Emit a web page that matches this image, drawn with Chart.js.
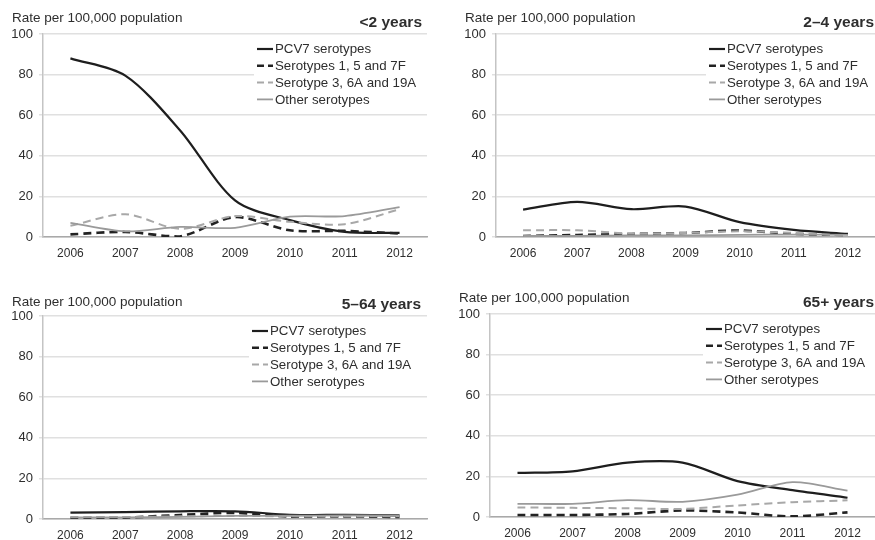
<!DOCTYPE html>
<html>
<head>
<meta charset="utf-8">
<script src="https://cdn.jsdelivr.net/npm/chart.js@4.4.1/dist/chart.umd.min.js"></script>
<style>
  html, body { margin: 0; padding: 0; background: #ffffff; }
  #wrap { position: relative; width: 875px; height: 540px; overflow: hidden; background: #ffffff; }
  #wrap canvas { position: absolute; }
</style>
</head>
<body>
<div id="wrap">
  <canvas id="c0" width="437" height="270" style="left:0px;top:0px"></canvas>
  <canvas id="c1" width="438" height="270" style="left:437px;top:0px"></canvas>
  <canvas id="c2" width="437" height="260" style="left:0px;top:280px"></canvas>
  <canvas id="c3" width="438" height="260" style="left:437px;top:280px"></canvas>
</div>
<script>
// Invasive pneumococcal disease rates by serotype group, per age band
const years = ['2006', '2007', '2008', '2009', '2010', '2011', '2012'];
const seriesNames = ['PCV7 serotypes', 'Serotypes 1, 5 and 7F', 'Serotype 3, 6A and 19A', 'Other serotypes'];
const yTicks = [0, 20, 40, 60, 80, 100];
const yAxisLabel = 'Rate per 100,000 population';
const panelTitles = ['<2 years', '2\u20134 years', '5\u201364 years', '65+ years'];

const under2Pcv7      = [88, 79.5, 52.5, 18, 8.3, 2.5, 2];
const under2Type157f  = [1.3, 2.5, 0.3, 9.8, 3.3, 3, 1.7];
const under2Type36a   = [5.5, 11.2, 4, 10.3, 7.5, 6.3, 13.7];
const under2Other     = [7, 2.8, 5, 4.5, 10, 10.3, 14.7];

const age2to4Pcv7     = [13.5, 17.3, 13.7, 15, 7.3, 3.5, 1.5];
const age2to4Type157f = [0.5, 1, 1.5, 2, 3.2, 1.5, 1];
const age2to4Type36a  = [3.3, 3.3, 1.7, 2, 2.8, 2, 0.7];
const age2to4Other    = [0.5, 0.5, 0.8, 0.8, 1, 1.2, 1];

const age5to64Pcv7     = [3.1, 3.4, 3.8, 3.8, 2.1, 2, 1.8];
const age5to64Type157f = [0.5, 0.7, 2, 3, 1.2, 1.3, 1];
const age5to64Type36a  = [1, 1, 1.3, 1.5, 1.3, 1.3, 1.3];
const age5to64Other    = [0.8, 0.8, 1, 1.5, 1.6, 1.8, 1.7];

const age65Pcv7     = [21.7, 22.5, 26.8, 26.8, 17.7, 13.2, 9.5];
const age65Type157f = [1, 1, 1.5, 3.2, 2.2, 0.3, 2.3];
const age65Type36a  = [4.7, 4.5, 4.3, 4, 5.7, 7.3, 8.2];
const age65Other    = [6.5, 6.5, 8.3, 7.5, 11, 17.2, 13];

const panelSeries = [
  [under2Pcv7, under2Type157f, under2Type36a, under2Other],
  [age2to4Pcv7, age2to4Type157f, age2to4Type36a, age2to4Other],
  [age5to64Pcv7, age5to64Type157f, age5to64Type36a, age5to64Other],
  [age65Pcv7, age65Type157f, age65Type36a, age65Other]
];

// line styles per serotype group
const lineStyles = [
  { color: '#1e1e1e', width: 2.2, dash: [] },
  { color: '#222222', width: 2.6, dash: [8, 5] },
  { color: '#a8a8a8', width: 2, dash: [8, 5] },
  { color: '#9a9a9a', width: 1.8, dash: [] }
];

// panel geometry
const panelLayout = [
  { id: 'c0', yW: 43, padR: 10, padT: 34, xH: 33, lab: [12, 18], title: [422, 23], leg: [257, 49] },
  { id: 'c1', yW: 59, padR: 0,  padT: 34, xH: 33, lab: [28, 18], title: [437, 23], leg: [272, 49] },
  { id: 'c2', yW: 43, padR: 10, padT: 36, xH: 21, lab: [12, 22], title: [421, 25], leg: [252, 51] },
  { id: 'c3', yW: 53, padR: 0,  padT: 34, xH: 23, lab: [22, 18], title: [437, 23], leg: [269, 49] }
];

const FONT = "'Liberation Sans', Arial, sans-serif";
const TEXT = '#2e2e2e';

// headings and legend drawn over the plot
const panelDecor = {
  id: 'panelDecor',
  afterDraw(chart, args, opts) {
    const ctx = chart.ctx;
    const L = opts.layout;
    ctx.save();
    ctx.textBaseline = 'middle';
    ctx.fillStyle = TEXT;
    ctx.font = '13.5px ' + FONT;
    ctx.textAlign = 'left';
    ctx.fillText(yAxisLabel, L.lab[0], L.lab[1]);
    ctx.font = 'bold 15.5px ' + FONT;
    ctx.textAlign = 'right';
    ctx.fillText(opts.title, L.title[0], L.title[1]);

    const lx = L.leg[0], ly = L.leg[1], rowH = 16.8;
    ctx.fillStyle = '#ffffff';
    ctx.fillRect(lx - 3, ly - 9, chart.chartArea.right - lx + 3, rowH * 4 + 2);
    ctx.font = '13.3px ' + FONT;
    ctx.textAlign = 'left';
    seriesNames.forEach((name, i) => {
      const st = lineStyles[i];
      const y = ly + i * rowH;
      ctx.beginPath();
      ctx.strokeStyle = st.color;
      ctx.lineWidth = st.width;
      ctx.setLineDash(st.dash.length ? [7, 4] : []);
      ctx.moveTo(lx, y);
      ctx.lineTo(lx + 16, y);
      ctx.stroke();
      ctx.setLineDash([]);
      ctx.fillStyle = TEXT;
      ctx.fillText(name, lx + 18, y + 0.5);
    });
    ctx.restore();
  }
};

panelLayout.forEach((L, p) => {
  const datasets = seriesNames.map((name, i) => ({
    label: name,
    data: panelSeries[p][i],
    borderColor: lineStyles[i].color,
    borderWidth: lineStyles[i].width,
    borderDash: lineStyles[i].dash,
    pointRadius: 0,
    fill: false,
    tension: 0.3
  })).reverse();

  new Chart(document.getElementById(L.id), {
    type: 'line',
    data: { labels: years, datasets },
    plugins: [panelDecor],
    options: {
      responsive: false,
      animation: false,
      devicePixelRatio: 1,
      layout: { padding: { left: 0, right: L.padR, top: L.padT, bottom: 0 } },
      plugins: {
        legend: { display: false },
        tooltip: { enabled: false },
        panelDecor: { layout: L, title: panelTitles[p] }
      },
      scales: {
        x: {
          type: 'category',
          offset: true,
          grid: { display: false, drawTicks: false, tickLength: 0 },
          border: { display: true, color: '#a9a9a9', width: 1.5 },
          ticks: { color: TEXT, font: { family: FONT, size: 12 }, padding: 9, maxRotation: 0, autoSkip: false },
          afterFit(s) { s.height = L.xH; }
        },
        y: {
          min: 0,
          max: 100,
          afterBuildTicks(s) { s.ticks = yTicks.map(v => ({ value: v })); },
          grid: { color: '#e0e0e0', lineWidth: 1.5, tickLength: 4, drawTicks: true },
          border: { display: true, color: '#c4c4c4', width: 1.5 },
          ticks: { color: TEXT, font: { family: FONT, size: 13 }, padding: 6 },
          afterFit(s) { s.width = L.yW; }
        }
      }
    }
  });
});
</script>
</body>
</html>
